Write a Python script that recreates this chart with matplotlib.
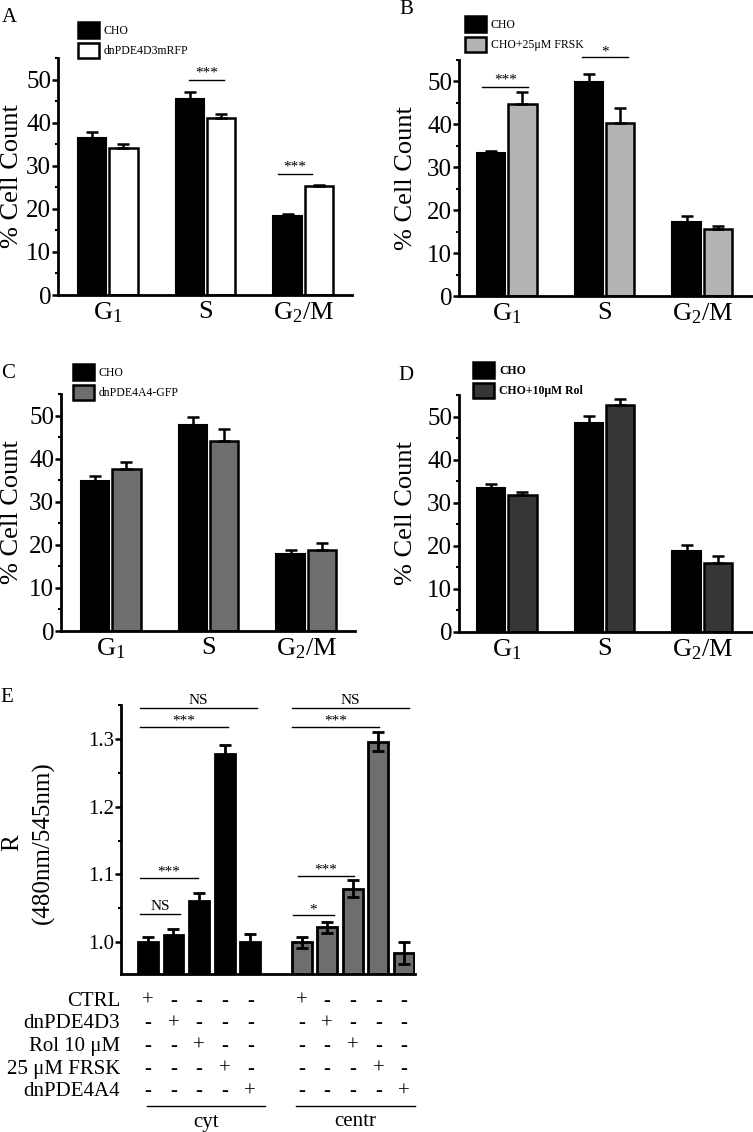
import numpy as np
import matplotlib
matplotlib.use('Agg')
import matplotlib.pyplot as plt
import matplotlib.transforms as mtrans
from matplotlib.patches import Patch
from matplotlib.ticker import MultipleLocator, FormatStrFormatter

plt.rcParams['font.family'] = ['Liberation Serif', 'DejaVu Serif']
plt.rcParams['mathtext.fontset'] = 'custom'
plt.rcParams['mathtext.rm'] = 'Liberation Serif'
plt.rcParams['mathtext.it'] = 'Liberation Serif:italic'
plt.rcParams['mathtext.default'] = 'regular'

W, H = 753, 1132

# ---- data: cell cycle panels (A-D) ----
phases = ['G$_1$', 'S', 'G$_2$/M']

a_labels = ['CHO', 'dnPDE4D3mRFP']
a_cho = [36.5, 45.5, 18.4]
a_cho_err = [1.4, 1.7, 0.5]
a_trt = [34.2, 41.0, 25.2]
a_trt_err = [0.8, 1.0, 0.4]

b_labels = ['CHO', 'CHO+25\u03bcM FRSK']
b_cho = [33.3, 49.9, 17.3]
b_cho_err = [0.5, 1.8, 1.3]
b_trt = [44.7, 40.3, 15.5]
b_trt_err = [2.8, 3.4, 0.7]

c_labels = ['CHO', 'dnPDE4A4-GFP']
c_cho = [34.7, 47.7, 17.8]
c_cho_err = [1.2, 1.9, 1.0]
c_trt = [37.6, 44.0, 18.7]
c_trt_err = [1.6, 2.9, 1.7]

d_labels = ['CHO', 'CHO+10\u03bcM Rol']
d_cho = [33.4, 48.4, 18.8]
d_cho_err = [0.9, 1.8, 1.3]
d_trt = [31.9, 52.6, 16.1]
d_trt_err = [0.5, 1.5, 1.6]

# ---- data: FRET ratio panel (E) ----
e_cyt = [1.000, 1.010, 1.061, 1.277, 1.000]
e_cyt_err = [0.008, 0.010, 0.011, 0.014, 0.012]
e_centr = [1.000, 1.022, 1.079, 1.296, 0.984]
e_centr_err = [0.008, 0.008, 0.012, 0.014, 0.016]
e_rows = ['CTRL', 'dnPDE4D3', 'Rol 10 \u03bcM', '25 \u03bcM FRSK', 'dnPDE4A4']


def px_rect(left, top, right, bottom):
    return [left / W, 1 - bottom / H, (right - left) / W, (bottom - top) / H]


fig = plt.figure(figsize=(W / 100, H / 100), dpi=100)


def cell_panel(rect, cho, cho_err, trt, trt_err, color, labels, xlim,
               leg_xy, letter, letter_xy, ylab_x, bold_legend=False):
    ax = fig.add_axes(rect)
    x = np.arange(len(phases))
    off, bw = 0.16, 0.29
    ax.bar(x - off, cho, bw, color='black', edgecolor='black', lw=1.5,
           yerr=[np.zeros(3), cho_err], capsize=4,
           error_kw=dict(elinewidth=1.8, capthick=1.8, ecolor='black'))
    ax.bar(x + off, trt, bw, color=color, edgecolor='black', lw=1.8,
           yerr=[np.zeros(3), trt_err], capsize=4,
           error_kw=dict(elinewidth=1.8, capthick=1.8, ecolor='black'))
    ax.set_xlim(*xlim)
    ax.set_ylim(0, 55)
    ax.set_xticks(x)
    ax.set_xticklabels(phases, fontsize=19)
    ax.tick_params(axis='x', length=0, pad=4)
    ax.yaxis.set_major_locator(MultipleLocator(10))
    ax.yaxis.set_minor_locator(MultipleLocator(5))
    ax.tick_params(axis='y', which='major', length=4, width=1.8, labelsize=18, pad=1)
    ax.tick_params(axis='y', which='minor', length=2.5, width=1.5)
    for s in ['top', 'right']:
        ax.spines[s].set_visible(False)
    for s in ['left', 'bottom']:
        ax.spines[s].set_linewidth(2)
    cy = rect[1] + rect[3] / 2
    fig.text(ylab_x / W, cy, '% Cell Count', rotation=90, ha='center',
             va='center', fontsize=19)
    handles = [Patch(facecolor='black', edgecolor='black', lw=1.8),
               Patch(facecolor=color, edgecolor='black', lw=1.8)]
    ax.legend(handles, labels, loc='upper left',
              bbox_to_anchor=(leg_xy[0] / W, 1 - leg_xy[1] / H),
              bbox_transform=fig.transFigure, frameon=False,
              borderpad=0, borderaxespad=0, handlelength=1.75,
              handleheight=1.65, handletextpad=0.45, labelspacing=0.45,
              prop=dict(size=8.5, weight='bold' if bold_legend else 'normal'))
    fig.text(letter_xy[0] / W, 1 - letter_xy[1] / H, letter, fontsize=15,
             ha='center', va='center')
    return ax


def sig(ax, x0, x1, y, text, ty):
    ax.plot([x0, x1], [y, y], color='black', lw=1, clip_on=False)
    ax.text((x0 + x1) / 2, ty, text, ha='center', va='center', fontsize=11)


axA = cell_panel(px_rect(58, 58, 352, 295), a_cho, a_cho_err, a_trt, a_trt_err,
                 'white', a_labels, (-0.51, 2.5), (78, 22), 'A', (9, 17), 12)
sig(axA, 0.83, 1.19, 50, '***', 51.5)
sig(axA, 1.74, 2.09, 28, '***', 29.6)

axB = cell_panel(px_rect(459, 60, 752, 296), b_cho, b_cho_err, b_trt, b_trt_err,
                 '#b3b3b3', b_labels, (-0.49, 2.51), (465, 16), 'B', (406, 10), 406)
sig(axB, -0.25, 0.22, 48.6, '***', 50.3)
sig(axB, 0.77, 1.24, 55.6, '*', 56.9)

axC = cell_panel(px_rect(61, 394, 355, 631), c_cho, c_cho_err, c_trt, c_trt_err,
                 '#6e6e6e', c_labels, (-0.51, 2.5), (73, 364), 'C', (8, 374), 12)

axD = cell_panel(px_rect(459, 395, 752, 632), d_cho, d_cho_err, d_trt, d_trt_err,
                 '#363636', d_labels, (-0.49, 2.51), (473, 362), 'D', (406, 375), 406,
                 bold_legend=True)

# ---- panel E ----
axE = fig.add_axes(px_rect(121, 705, 415, 974))
xc = np.arange(5)
xn = np.arange(5) + 6
axE.bar(xc, e_cyt, 0.78, color='black', edgecolor='black', lw=2,
        yerr=e_cyt_err, capsize=4,
        error_kw=dict(elinewidth=2, capthick=2, ecolor='black'))
axE.bar(xn, e_centr, 0.78, color='#6e6e6e', edgecolor='black', lw=2,
        yerr=e_centr_err, capsize=4,
        error_kw=dict(elinewidth=2, capthick=2, ecolor='black'))
axE.set_xlim(-1.05, 10.43)
axE.set_ylim(0.953, 1.35)
axE.set_xticks([])
axE.yaxis.set_major_locator(MultipleLocator(0.1))
axE.yaxis.set_minor_locator(MultipleLocator(0.05))
axE.yaxis.set_major_formatter(FormatStrFormatter('%.1f'))
axE.tick_params(axis='y', which='major', length=4, width=1.8, labelsize=15, pad=1)
axE.tick_params(axis='y', which='minor', length=2.5, width=1.5)
for s in ['top', 'right']:
    axE.spines[s].set_visible(False)
for s in ['left', 'bottom']:
    axE.spines[s].set_linewidth(2)

sig(axE, -0.31, 4.26, 1.345, 'NS', 1.357)
sig(axE, -0.31, 3.13, 1.318, '***', 1.327)
sig(axE, -0.31, 1.95, 1.094, '***', 1.103)
sig(axE, -0.31, 1.25, 1.041, 'NS', 1.053)
sig(axE, 5.63, 10.2, 1.345, 'NS', 1.357)
sig(axE, 5.63, 9.02, 1.318, '***', 1.327)
sig(axE, 5.86, 8.05, 1.097, '***', 1.106)
sig(axE, 5.66, 7.27, 1.040, '*', 1.047)

fig.text(12 / W, 1 - 843 / H, 'R', rotation=90, ha='center', va='center', fontsize=18)
fig.text(43 / W, 1 - 843 / H, '(480nm/545nm)', rotation=90, ha='center',
         va='center', fontsize=18)
fig.text(7 / W, 1 - 697 / H, 'E', fontsize=15, ha='center', va='center')

# treatment table under panel E
tr = mtrans.blended_transform_factory(axE.transData, fig.transFigure)
for i, row in enumerate(e_rows):
    yy = 1 - (1001 + 22.7 * i) / H
    fig.text(120 / W, yy, row, ha='right', va='center', fontsize=15)
    for j in range(5):
        mark = '+' if i == j else '-'
        axE.text(xc[j], yy, mark, transform=tr, ha='center', va='center',
                 fontsize=15, clip_on=False)
        axE.text(xn[j], yy, mark, transform=tr, ha='center', va='center',
                 fontsize=15, clip_on=False)

ly = 1 - 1106 / H
axE.plot([-0.04, 4.57], [ly, ly], transform=tr, color='black', lw=1, clip_on=False)
axE.plot([5.78, 10.43], [ly, ly], transform=tr, color='black', lw=1, clip_on=False)
axE.text(2.27, 1 - 1122 / H, 'cyt', transform=tr, ha='center', va='center', fontsize=15)
axE.text(8.1, 1 - 1122 / H, 'centr', transform=tr, ha='center', va='center', fontsize=15)

fig.savefig('out.png', dpi=100)
